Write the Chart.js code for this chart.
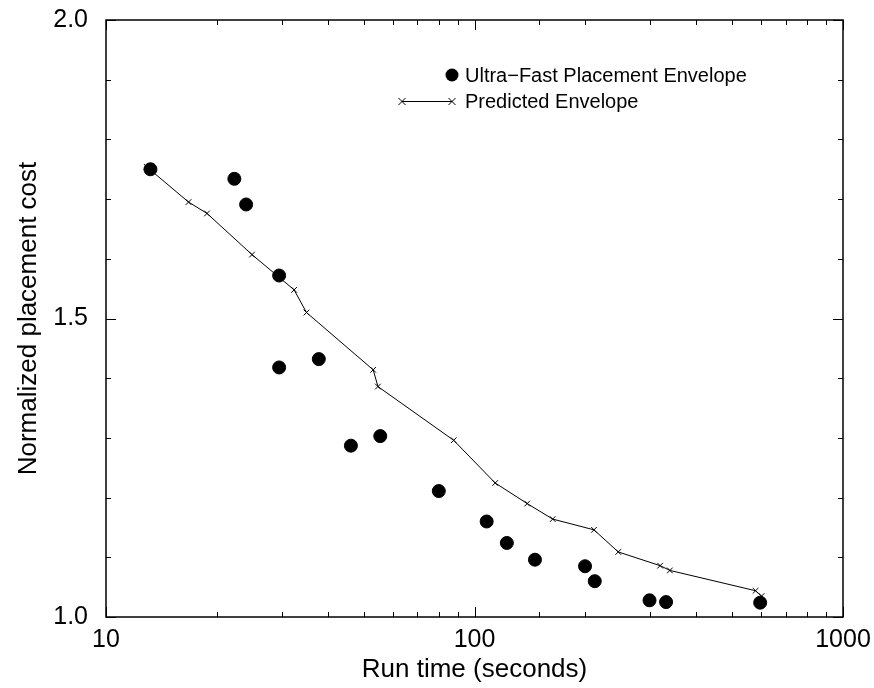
<!DOCTYPE html>
<html lang="en">
<head>
  <meta charset="UTF-8">
  <script src="https://cdn.jsdelivr.net/npm/chart.js"></script>
  <title>Placement cost vs run time</title>
  <style>
    html, body { margin: 0; padding: 0; background: #fff; }
    #wrap { width: 874px; height: 688px; }
  </style>
</head>
<body>
  <div id="wrap"><canvas id="grafico"></canvas></div>
<script>
  // Ultra-Fast placement envelope (filled dots)
  var ufTime = [13.2, 22.3, 24.0, 29.5, 29.5, 37.8, 46.2, 55.5, 80.0, 107.9, 122.4, 145.9, 199.5, 212, 298.5, 331, 596]
  var ufCost = [1.750, 1.734, 1.691, 1.572, 1.418, 1.432, 1.287, 1.303, 1.211, 1.160, 1.124, 1.096, 1.085, 1.060, 1.028, 1.025, 1.024]

  // predicted envelope (line with crosses)
  var predTime = [12.9, 16.75, 18.8, 24.9, 32.4, 35.0, 53.1, 54.7, 87.8, 113.8, 139, 163, 211, 245.5, 319, 339, 579, 601]
  var predCost = [1.754, 1.695, 1.676, 1.607, 1.548, 1.510, 1.414, 1.386, 1.296, 1.2245, 1.190, 1.164, 1.146, 1.109, 1.086, 1.078, 1.044, 1.035]

  var xTickLabels = [10, 100, 1000]
  var yTickLabels = [1.0, 1.5, 2.0]

  var fonte = 'Liberation Sans, Arial, Helvetica, sans-serif'

  function pares(xs, ys) {
    var out = []
    for (let i = 0; i < xs.length; i++) out.push({ x: xs[i], y: ys[i] })
    return out
  }

  // box + inward ticks on all four sides
  var molduraPlugin = {
    id: 'moldura',
    afterDatasetsDraw(chart) {
      const ctx = chart.ctx
      const a = chart.chartArea
      const sx = chart.scales.x
      const sy = chart.scales.y
      ctx.save()
      ctx.strokeStyle = '#000'
      ctx.lineWidth = 1.5
      ctx.strokeRect(a.left, a.top, a.right - a.left, a.bottom - a.top)
      ctx.lineWidth = 1
      ctx.beginPath()
      sx.ticks.forEach(t => {
        const px = Math.round(sx.getPixelForValue(t.value)) + 0.5
        const major = xTickLabels.indexOf(t.value) >= 0
        const len = major ? 10 : 5
        ctx.moveTo(px, a.bottom); ctx.lineTo(px, a.bottom - len)
        ctx.moveTo(px, a.top); ctx.lineTo(px, a.top + len)
      })
      sy.ticks.forEach(t => {
        const py = Math.round(sy.getPixelForValue(t.value)) + 0.5
        const major = yTickLabels.some(v => Math.abs(v - t.value) < 1e-6)
        const len = major ? 10 : 5
        ctx.moveTo(a.left, py); ctx.lineTo(a.left + len, py)
        ctx.moveTo(a.right, py); ctx.lineTo(a.right - len, py)
      })
      ctx.stroke()
      ctx.restore()
    }
  }

  // legend inside the plot, like the original
  var legendaPlugin = {
    id: 'legenda',
    afterDatasetsDraw(chart) {
      const ctx = chart.ctx
      ctx.save()
      ctx.fillStyle = '#000'
      ctx.strokeStyle = '#000'
      ctx.font = '20px ' + fonte
      ctx.textBaseline = 'middle'
      ctx.beginPath()
      ctx.arc(452, 75, 6.5, 0, Math.PI * 2)
      ctx.fill()
      ctx.fillText('Ultra\u2212Fast Placement Envelope', 465, 76)

      ctx.lineWidth = 1
      ctx.beginPath()
      ctx.moveTo(402, 101.5); ctx.lineTo(452, 101.5)
      ;[402, 452].forEach(cx => {
        ctx.moveTo(cx - 3.5, 98); ctx.lineTo(cx + 3.5, 105)
        ctx.moveTo(cx - 3.5, 105); ctx.lineTo(cx + 3.5, 98)
      })
      ctx.stroke()
      ctx.fillText('Predicted Envelope', 465, 102)
      ctx.restore()
    }
  }

  var data = {
    datasets: [
      {
        label: 'Ultra\u2212Fast Placement Envelope',
        type: 'scatter',
        data: pares(ufTime, ufCost),
        backgroundColor: '#000',
        borderColor: '#000',
        pointRadius: 6.5,
        pointHoverRadius: 6.5,
        order: 1
      },
      {
        label: 'Predicted Envelope',
        type: 'line',
        data: pares(predTime, predCost),
        borderColor: '#000',
        borderWidth: 1,
        backgroundColor: '#000',
        pointStyle: 'crossRot',
        pointRadius: 4,
        pointBorderWidth: 1,
        tension: 0,
        fill: false,
        order: 2
      }
    ]
  }

  var config = {
    type: 'scatter',
    data: data,
    options: {
      responsive: true,
      maintainAspectRatio: false,
      animation: false,
      layout: { padding: { left: 0, right: 31, top: 20, bottom: 0 } },
      plugins: {
        legend: { display: false },
        tooltip: { enabled: false }
      },
      scales: {
        x: {
          type: 'logarithmic',
          min: 10,
          max: 1000,
          grid: { display: false, drawTicks: false },
          border: { display: false },
          ticks: {
            color: '#000',
            font: { family: fonte, size: 25 },
            padding: 8,
            maxRotation: 0,
            autoSkip: false,
            callback: function (v) {
              return xTickLabels.indexOf(v) >= 0 ? String(v) : ''
            }
          },
          title: {
            display: true,
            text: 'Run time (seconds)',
            color: '#000',
            font: { family: fonte, size: 26 },
            padding: { top: 0, bottom: 3 }
          },
          afterFit: function (s) {
            s.height = 71
            s.paddingLeft = 0
            s.paddingRight = 0
          }
        },
        y: {
          min: 1.0,
          max: 2.0,
          grid: { display: false, drawTicks: false },
          border: { display: false },
          ticks: {
            stepSize: 0.1,
            color: '#000',
            font: { family: fonte, size: 25 },
            padding: 18,
            autoSkip: false,
            callback: function (v) {
              return yTickLabels.some(t => Math.abs(t - v) < 1e-6) ? v.toFixed(1) : ''
            }
          },
          title: {
            display: true,
            text: 'Normalized placement cost',
            color: '#000',
            font: { family: fonte, size: 26 },
            padding: { top: 13, bottom: 0 }
          },
          afterFit: function (s) {
            s.width = 106
            s.paddingTop = 0
            s.paddingBottom = 0
          }
        }
      }
    },
    plugins: [molduraPlugin, legendaPlugin]
  }

  new Chart(document.getElementById('grafico'), config)
</script>
</body>
</html>
